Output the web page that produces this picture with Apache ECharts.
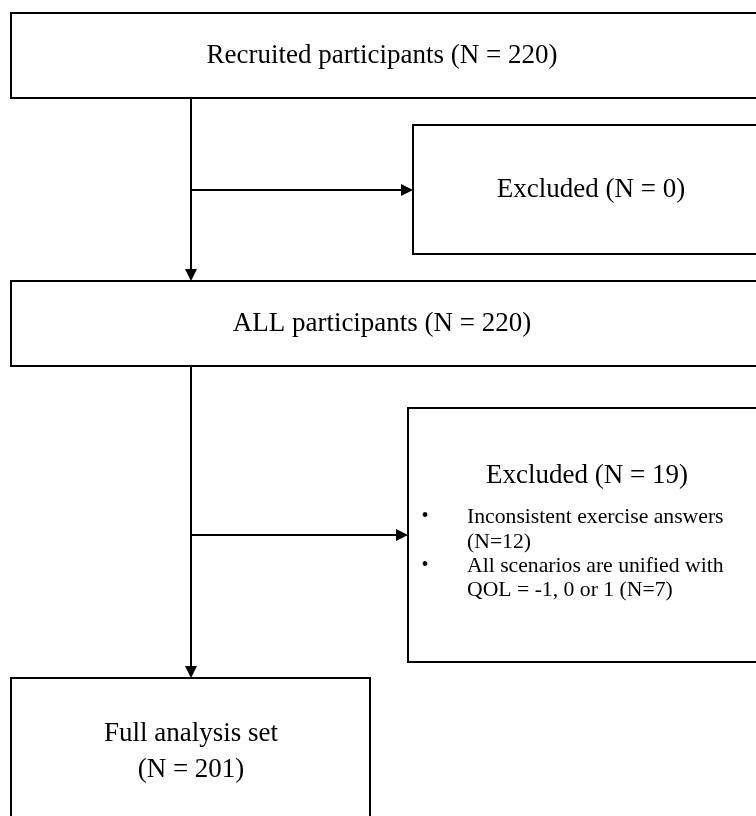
<!DOCTYPE html>
<html>
<head>
<meta charset="utf-8">
<script src="https://cdn.jsdelivr.net/npm/echarts@6/dist/echarts.min.js"></script>
<style>
  html, body { margin: 0; padding: 0; background: #ffffff; }
  #chart { width: 756px; height: 816px; }
</style>
</head>
<body>
<div id="chart"></div>
<script>
// ---- Flowchart content ----
const boxTitles = [
  "Recruited participants (N = 220)",
  "Excluded (N = 0)",
  "ALL participants (N = 220)",
  "Excluded (N = 19)",
  "Full analysis set\n(N = 201)"
];
// box extents in chart units (x: 0..756, y: 0..816 top-down)
const boxLeft   = [11, 413, 11, 408, 11];
const boxRight  = [768, 768, 768, 766, 370];
const boxTop    = [13, 125, 281, 408, 678];
const boxBottom = [98, 254, 366, 662, 830];

const excludedReasons = [
  ["Inconsistent exercise answers", "(N=12)"],
  ["All scenarios are unified with", "QOL = -1, 0 or 1 (N=7)"]
];

// connectors: [fromX, fromY, toX, toY]
const connectors = [
  [191, 98, 191, 281],
  [191, 190, 413, 190],
  [191, 366, 191, 678],
  [191, 535, 408, 535]
];

const FONT = "'Liberation Serif', 'Times New Roman', serif";
const ARROW = 12;

const chart = echarts.init(document.getElementById('chart'), null, { renderer: 'canvas' });

function renderBox(params, api) {
  const i = api.value(0);
  const p0 = api.coord([boxLeft[i], boxTop[i]]);
  const p1 = api.coord([boxRight[i], boxBottom[i]]);
  const x = p0[0], y = p0[1], w = p1[0] - p0[0], h = p1[1] - p0[1];
  const children = [{
    type: 'rect',
    shape: { x: x, y: y, width: w, height: h },
    style: { fill: '#ffffff', stroke: '#000000', lineWidth: 2 }
  }];
  if (i === 3) {
    const tc = api.coord([587, 476]);
    children.push({
      type: 'text',
      style: { x: tc[0], y: tc[1], text: boxTitles[i], fill: '#000', font: '27px ' + FONT, align: 'center', verticalAlign: 'middle' }
    });
    const lineYs = [[517, 542], [566, 590]];
    excludedReasons.forEach(function (item, k) {
      const b = api.coord([425, lineYs[k][0]]);
      children.push({
        type: 'text',
        style: { x: b[0], y: b[1], text: '\u2022', fill: '#000', font: '20px ' + FONT, align: 'center', verticalAlign: 'middle' }
      });
      item.forEach(function (line, j) {
        const t = api.coord([467, lineYs[k][j]]);
        children.push({
          type: 'text',
          style: { x: t[0], y: t[1], text: line, fill: '#000', font: '21.7px ' + FONT, align: 'left', verticalAlign: 'middle' }
        });
      });
    });
  } else {
    let cx = (boxLeft[i] + Math.min(boxRight[i], 756)) / 2;
    let cy = (boxTop[i] + boxBottom[i]) / 2;
    if (i === 0) { cx = 382; cy = 56; }
    if (i === 1) { cx = 591; cy = 190; }
    if (i === 2) { cx = 382; cy = 324; }
    if (i === 4) { cx = 191; cy = 752; }
    const c = api.coord([cx, cy]);
    children.push({
      type: 'text',
      style: { x: c[0], y: c[1], text: boxTitles[i], fill: '#000', font: '27px ' + FONT, align: 'center', verticalAlign: 'middle', lineHeight: 36 }
    });
  }
  return { type: 'group', children: children };
}

// pull the end of each connector back so the arrow tip touches the box edge
function trimmed(c) {
  const dx = c[2] - c[0], dy = c[3] - c[1];
  const len = Math.sqrt(dx * dx + dy * dy);
  const back = ARROW / 2;
  return [[c[0], c[1]], [c[2] - dx / len * back, c[3] - dy / len * back]];
}

chart.setOption({
  animation: false,
  backgroundColor: '#ffffff',
  grid: { left: 0, right: 0, top: 0, bottom: 0 },
  xAxis: { type: 'value', min: 0, max: 756, show: false },
  yAxis: { type: 'value', min: 0, max: 816, inverse: true, show: false },
  series: [
    {
      type: 'custom',
      coordinateSystem: 'cartesian2d',
      clip: true,
      renderItem: renderBox,
      data: boxTitles.map(function (_, i) { return [i]; }),
      z: 1
    },
    {
      type: 'lines',
      coordinateSystem: 'cartesian2d',
      polyline: false,
      symbol: ['none', 'triangle'],
      symbolSize: [ARROW, ARROW],
      lineStyle: { color: '#000', width: 2, opacity: 1 },
      itemStyle: { color: '#000' },
      data: connectors.map(function (c) { return { coords: trimmed(c) }; }),
      z: 2
    }
  ]
});
</script>
</body>
</html>
